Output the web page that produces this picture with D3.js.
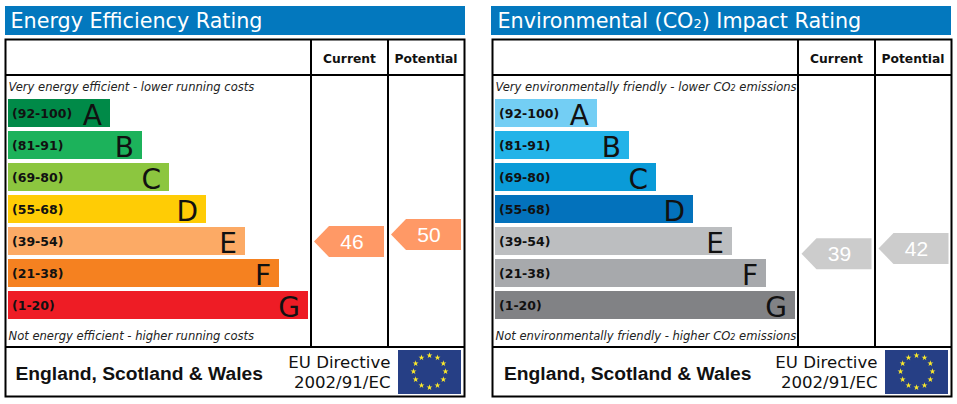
<!DOCTYPE html>
<html>
<head>
<meta charset="utf-8">
<title>Energy Performance Ratings</title>
<script src="https://cdn.jsdelivr.net/npm/d3@7"></script>
<style>
    html, body { margin: 0; padding: 0; background: #fff; }
    svg { display: block; }
    text { font-family: "DejaVu Sans", Verdana, sans-serif; }
</style>
</head>
<body>
<div id="chart"></div>
<script>
// Chart data
const bands = ["(92-100)", "(81-91)", "(69-80)", "(55-68)", "(39-54)", "(21-38)", "(1-20)"];
const letters = ["A", "B", "C", "D", "E", "F", "G"];
const bandLengths = [102, 134, 161, 198, 237, 271, 300];
const energyColors = ["#008a48", "#1cb25b", "#8cc63f", "#ffcc05", "#fcaa65", "#f58120", "#ee1c25"];
const co2Colors = ["#73cef4", "#22b3e8", "#0a9bd8", "#0372bc", "#bcbec0", "#a7a9ac", "#818285"];
const energyRatings = [46, 50];
const co2Ratings = [39, 42];
const columnLabels = ["Current", "Potential"];

const width = 957, height = 404;

const svg = d3.select("#chart")
    .append("svg")
    .attr("width", width)
    .attr("height", height);

// Shared scales, every panel is drawn in the same local coordinates
const barX = d3.scaleLinear().domain([0, 300]).range([0, 300]);
const barY = d3.scaleBand().domain(bands).range([99, 319]).paddingInner(0.125).paddingOuter(0);
const ratingY = d3.scaleLinear().domain([1, 100]).range([320.25, 147]);

// Write a label where a "2" is set small, as in CO2
function co2Text(sel, before, after, smallSize) {
    sel.append("tspan").text(before);
    sel.append("tspan").attr("font-size", smallSize).text("2");
    sel.append("tspan").text(after);
}

function drawFlag(g) {
    const flag = g.append("g").attr("transform", "translate(424.5,372)");
    flag.append("rect")
        .attr("x", -26.5).attr("y", -22)
        .attr("width", 63).attr("height", 44)
        .attr("fill", "#263f85");
    const star = d3.symbol().type(d3.symbolStar).size(11);
    flag.selectAll("path")
        .data(d3.range(12))
        .enter()
        .append("path")
        .attr("d", star)
        .attr("fill", "#fcea2b")
        .attr("transform", d => {
            const a = d / 12 * 2 * Math.PI;
            return `translate(${5 + 16 * Math.sin(a)},${-0.5 - 16 * Math.cos(a)})`;
        });
}

function drawPanel(g, opts) {
    // Title bar
    g.append("rect")
        .attr("x", opts.titleLeft).attr("y", 6)
        .attr("width", 460).attr("height", 29)
        .attr("fill", "#0378be");
    const title = g.append("text")
        .attr("x", 10.5).attr("y", 28)
        .attr("font-size", 20.7)
        .attr("fill", "#fff");
    opts.title(title);

    // Frame and dividers
    g.append("rect")
        .attr("x", 5.5).attr("y", 39.5)
        .attr("width", 459).attr("height", 357)
        .attr("fill", "#fff")
        .attr("stroke", "#000")
        .attr("stroke-width", 2);
    const lines = [[5, 75, 465, 75], [5, 347, 465, 347], [311, 39, 311, 347], [388, 39, 388, 347]];
    g.selectAll("line.divider")
        .data(lines)
        .enter()
        .append("line")
        .attr("class", "divider")
        .attr("x1", d => d[0]).attr("y1", d => d[1])
        .attr("x2", d => d[2]).attr("y2", d => d[3])
        .attr("stroke", "#000")
        .attr("stroke-width", 2);

    // Column headings
    g.selectAll("text.column")
        .data(columnLabels)
        .enter()
        .append("text")
        .attr("class", "column")
        .attr("x", (d, i) => i === 0 ? 349.5 : 426)
        .attr("y", 63)
        .attr("text-anchor", "middle")
        .attr("font-size", 12.3)
        .attr("font-weight", "bold")
        .attr("fill", "#111")
        .text(d => d);

    // Top and bottom captions
    const top = g.append("text")
        .attr("x", 8.5).attr("y", 91)
        .attr("font-size", opts.captionSize)
        .attr("font-style", "italic")
        .attr("fill", "#222");
    opts.topCaption(top);
    const bottom = g.append("text")
        .attr("x", 8.5).attr("y", 340)
        .attr("font-size", opts.captionSize)
        .attr("font-style", "italic")
        .attr("fill", "#222");
    opts.bottomCaption(bottom);

    // Rating bands
    const barsLeft = 8;
    const rows = g.selectAll("g.band")
        .data(bands)
        .enter()
        .append("g")
        .attr("class", "band")
        .attr("transform", d => `translate(${barsLeft},${barY(d)})`);
    rows.append("rect")
        .attr("width", (d, i) => barX(bandLengths[i]))
        .attr("height", barY.bandwidth())
        .attr("fill", (d, i) => opts.colors[i]);
    rows.append("text")
        .attr("x", 4)
        .attr("y", 19)
        .attr("font-size", 12.5)
        .attr("font-weight", "bold")
        .attr("fill", "#111")
        .text(d => d);
    rows.append("text")
        .attr("x", (d, i) => barX(bandLengths[i]) - 8)
        .attr("y", 25.5)
        .attr("text-anchor", "end")
        .attr("font-size", 28)
        .attr("fill", "#111")
        .text((d, i) => letters[i]);

    // Current and potential pointers
    const pointerLeft = [opts.pointerLeft, opts.pointerLeft + 77];
    const pointers = g.selectAll("g.pointer")
        .data(opts.ratings)
        .enter()
        .append("g")
        .attr("class", "pointer")
        .attr("transform", (d, i) => `translate(${pointerLeft[i]},${ratingY(d)})`);
    pointers.append("path")
        .attr("d", "M0,0 L15,-15.5 L70,-15.5 L70,15.5 L15,15.5 Z")
        .attr("fill", opts.pointerColor);
    pointers.append("text")
        .attr("x", 38)
        .attr("y", 7.5)
        .attr("text-anchor", "middle")
        .style("font-family", "'Liberation Sans', Arial, sans-serif")
        .attr("font-size", 21)
        .attr("fill", "#fff")
        .text(d => d);

    // Footer
    g.append("text")
        .attr("x", opts.footerLeft).attr("y", 380)
        .style("font-family", "'Liberation Sans', Arial, sans-serif")
        .attr("font-size", 19.25)
        .attr("font-weight", "bold")
        .attr("fill", "#111")
        .text("England, Scotland & Wales");
    g.selectAll("text.directive")
        .data(["EU Directive", "2002/91/EC"])
        .enter()
        .append("text")
        .attr("class", "directive")
        .attr("x", 390.5)
        .attr("y", (d, i) => 368 + i * 20)
        .attr("text-anchor", "end")
        .attr("font-size", 16.6)
        .attr("fill", "#111")
        .text(d => d);
    drawFlag(g);
}

drawPanel(svg.append("g"), {
    title: t => t.text("Energy Efficiency Rating"),
    topCaption: t => t.text("Very energy efficient - lower running costs"),
    bottomCaption: t => t.text("Not energy efficient - higher running costs"),
    captionSize: 11.55,
    colors: energyColors,
    ratings: energyRatings,
    pointerLeft: 314,
    pointerColor: "#ff9966",
    titleLeft: 5,
    footerLeft: 15.5
});

drawPanel(svg.append("g").attr("transform", "translate(487,0)"), {
    title: t => co2Text(t, "Environmental (CO", ") Impact Rating", 13),
    topCaption: t => co2Text(t, "Very environmentally friendly - lower CO", " emissions", 8),
    bottomCaption: t => co2Text(t, "Not environmentally friendly - higher CO", " emissions", 8),
    captionSize: 11.55,
    colors: co2Colors,
    ratings: co2Ratings,
    pointerLeft: 314.5,
    pointerColor: "#cccccc",
    titleLeft: 4,
    footerLeft: 17
});
</script>
</body>
</html>
